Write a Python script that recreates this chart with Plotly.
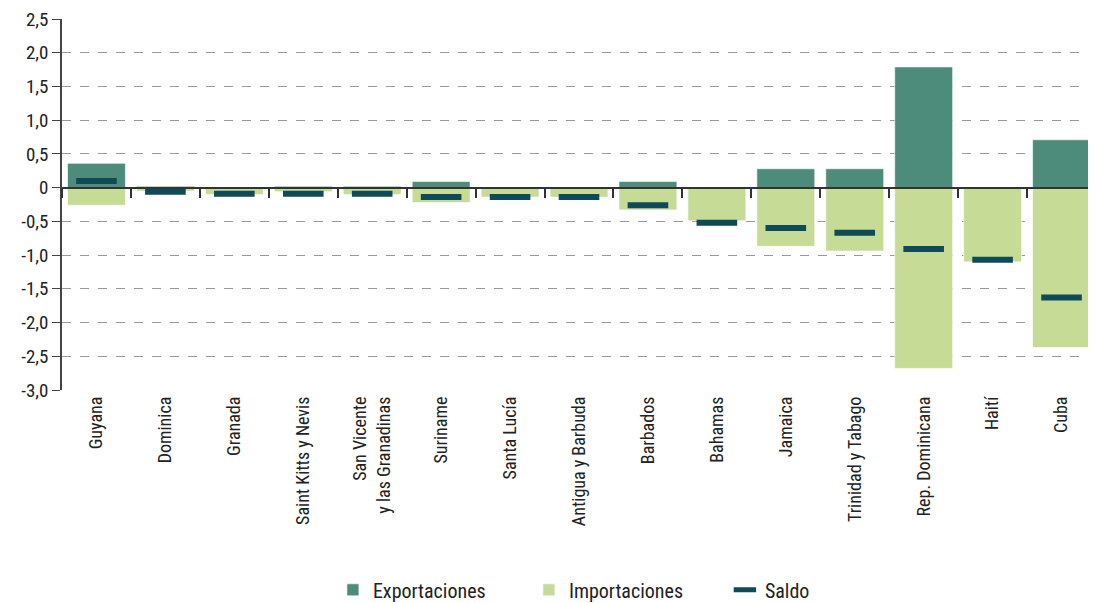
import plotly.graph_objects as go

categorias = ["Guyana", "Dominica", "Granada", "Saint Kitts y Nevis",
              "San Vicente<br>y las Granadinas", "Suriname", "Santa Lucía",
              "Antigua y Barbuda", "Barbados", "Bahamas", "Jamaica",
              "Trinidad y Tabago", "Rep. Dominicana", "Haití", "Cuba"]
exportaciones = [0.36, 0.02, 0.01, 0.02, 0.02, 0.09, 0.01, 0.01, 0.09, 0.01,
                 0.28, 0.28, 1.79, 0.01, 0.71]
importaciones = [-0.26, -0.05, -0.10, -0.06, -0.10, -0.22, -0.14, -0.14, -0.33,
                 -0.49, -0.87, -0.94, -2.68, -1.10, -2.37]
saldo = [0.10, -0.06, -0.09, -0.09, -0.09, -0.14, -0.14, -0.14, -0.26, -0.52,
         -0.60, -0.67, -0.91, -1.07, -1.63]

y_ticks = [2.5, 2.0, 1.5, 1.0, 0.5, 0, -0.5, -1.0, -1.5, -2.0, -2.5, -3.0]
y_text = ["2,5", "2,0", "1,5", "1,0", "0,5", "0", "-0,5", "-1,0", "-1,5",
          "-2,0", "-2,5", "-3,0"]

FONT = "Liberation Sans Narrow, Roboto Condensed, Roboto, sans-serif"
C_EXP = "#4d8b7a"
C_IMP = "#c5db96"
C_SAL = "#0f4a58"

fig = go.Figure()
fig.add_trace(go.Bar(x=categorias, y=exportaciones, name="Exportaciones",
                     marker=dict(color=C_EXP, line=dict(color="rgba(255,255,255,0.6)", width=1)),
                     width=0.84))
fig.add_trace(go.Bar(x=categorias, y=importaciones, name="Importaciones",
                     marker=dict(color=C_IMP, line=dict(color="rgba(255,255,255,0.6)", width=1)),
                     width=0.84))
fig.add_trace(go.Scatter(x=categorias, y=saldo, name="Saldo", mode="markers",
                         marker=dict(symbol="line-ew", size=29,
                                     line=dict(color=C_SAL, width=6))))
# helper trace for the zero-line axis (ticks at category boundaries)
fig.add_trace(go.Scatter(x=categorias, y=[0] * len(categorias), xaxis="x2",
                         mode="none", showlegend=False, hoverinfo="skip"))

zero_pos = (0 - y_ticks[-1]) / (y_ticks[0] - y_ticks[-1])

# page body has an 8px margin; figure sized to fit the 1096x603 window
fig.update_layout(
    width=1088, height=595,
    barmode="relative",
    plot_bgcolor="white", paper_bgcolor="white",
    margin=dict(l=54, r=0, t=11, b=213, autoexpand=False),
    font=dict(family=FONT, size=18, color="#222"),
    xaxis=dict(type="category", categoryorder="array", categoryarray=categorias,
               range=[-0.5, len(categorias) - 0.5], automargin=False,
               tickangle=-90, showline=False, ticks="", showgrid=False,
               tickfont=dict(size=18, color="#222"), ticklabelstandoff=2,
               ticklabeloverflow="allow"),
    xaxis2=dict(type="category", categoryorder="array", categoryarray=categorias,
                range=[-0.5, len(categorias) - 0.5], automargin=False,
                overlaying="x", anchor="free", position=zero_pos,
                showticklabels=False, ticks="outside", tickson="boundaries",
                ticklen=9, tickwidth=2, tickcolor="#333",
                showline=True, linecolor="#333", linewidth=2, showgrid=False),
    yaxis=dict(range=[-3.0, 2.5], tickvals=y_ticks, ticktext=y_text,
               automargin=False, ticklabeloverflow="allow",
               showline=True, linecolor="#444", linewidth=1.5,
               ticks="outside", ticklen=8, tickcolor="#444",
               showgrid=True, gridcolor="#999", griddash="dash", gridwidth=1,
               zeroline=False, tickfont=dict(size=19, color="#222")),
    legend=dict(orientation="h", x=0.262, xanchor="left", y=-0.486, yanchor="top",
                entrywidth=151, font=dict(size=20, color="#222"),
                traceorder="normal"),
    bargap=0.16,
)

fig.write_html("out.html")
